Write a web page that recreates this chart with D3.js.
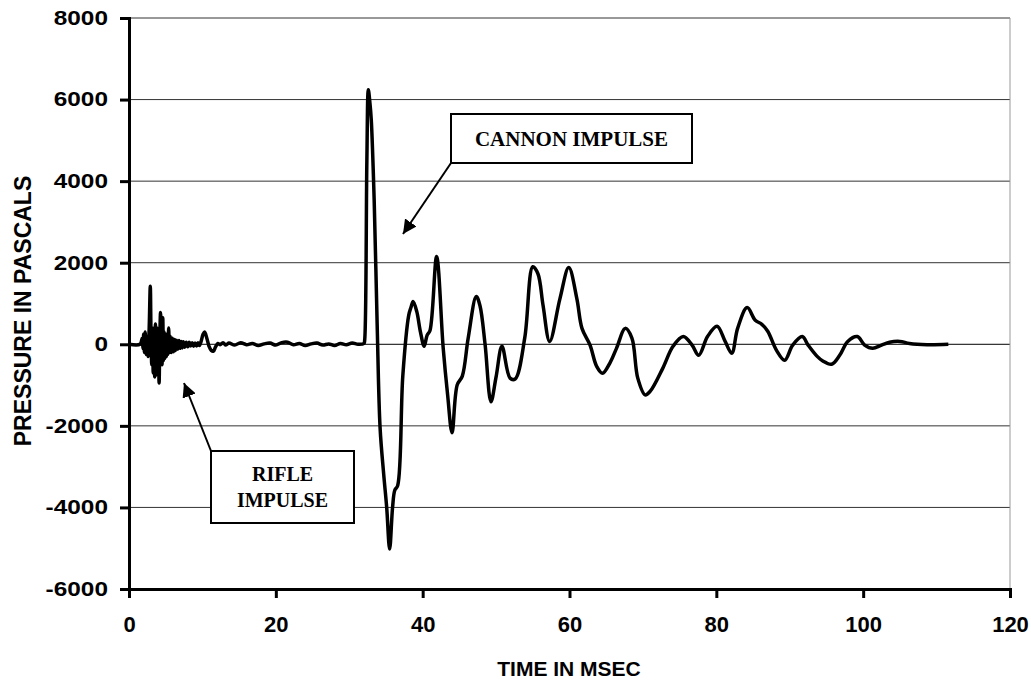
<!DOCTYPE html>
<html>
<head>
<meta charset="utf-8">
<script src="https://cdn.jsdelivr.net/npm/d3@7"></script>
<style>
    body { margin: 0; background: #fff; }
    svg { display: block; }
</style>
</head>
<body>
<div id="chart"></div>
<script>
// time in msec
const timeMs = [
    0, 1.5, 1.8, 1.9, 2.0, 2.1, 2.2, 2.35, 2.5, 2.6, 2.75, 2.9, 3.0, 3.1, 3.2, 3.3, 3.4, 3.5, 3.6, 3.7, 3.8, 3.9,
    4.0, 4.1, 4.2, 4.3, 4.4, 4.5, 4.6, 4.7, 4.8, 4.9, 5.0, 5.1, 5.2, 5.3, 5.4, 5.5, 5.6, 5.75, 5.9, 6.05, 6.2,
    6.35, 6.5, 6.65, 6.8, 6.95, 7.1, 7.25, 7.4, 7.6, 7.8, 8.0, 8.2, 8.4, 8.6, 8.8, 9.0, 9.2, 9.4, 9.6, 9.8,
    10.1, 10.3, 10.6, 10.9, 11.2, 11.5, 11.8, 12.1, 12.4, 12.8, 13.2, 13.6, 14.4, 15.2, 16.0, 16.8, 17.6,
    18.4, 19.2, 20.0, 20.8, 21.6, 22.4, 23.2, 24.0, 24.8, 25.6, 26.4, 27.2, 28.0, 28.8, 29.6, 30.4, 31.2,
    32.0, 32.1, 32.4, 32.6, 32.8, 33.0, 33.4, 33.8, 34.2, 34.7, 35.1, 35.5, 35.9, 36.2, 36.6, 37.3, 38.1,
    38.4, 38.7, 39.2, 39.7, 40.2, 40.6, 41.0, 41.9, 42.8, 43.4, 44.0, 44.7, 45.4, 46.2, 47.3, 47.8, 48.5,
    49.3, 50.0, 50.8, 51.9, 52.6, 53.9, 55.0, 55.7, 56.4, 57.3, 58.7, 59.9, 61.0, 61.7, 62.8, 63.7, 64.5,
    65.5, 66.4, 67.6, 68.5, 69.3, 70.3, 71.0, 72.7, 74.1, 75.5, 76.7, 77.6, 78.8, 80.1, 81.2, 82.1, 82.9,
    84.2, 85.3, 86.2, 87.0, 88.2, 89.3, 90.4, 91.7, 92.5, 93.7, 94.5, 95.7, 96.8, 97.9, 99.2, 100.2, 101.3,
    102.5, 103.6, 105.0, 106.3, 108.7, 111.6
];
// pressure in pascals
const pressurePa = [
    0, 0, 150, -100, 250, -200, 300, -250, 200, -300, 400, 1420, 200, -500, 400, -700, 300, -800, 500, -750, 400, -600,
    300, -950, 200, 780, 300, -500, 650, -400, 300, -350, 250, -300, 200, -250, 400, -200, 200, -200, 150, -180, 120,
    -150, 100, -120, 90, -100, 70, -90, 60, -70, 50, -60, 50, -40, 40, -50, 30, -40, 40, -30, 60,
    250, 300, 150, -50, -150, -170, -60, 20, -10, 40, -20, 30, -20, 40, -10, 20, -30,
    10, 30, -20, 40, 50, -10, 20, -30, 10, 30, -20, 10, -30, 20, -10, 30, 0,
    20, 100, 4500, 6240, 5950, 5500, 3500, 500, -2050, -3200, -4000, -5020, -4000, -3580, -3460, -760, 710,
    900, 1050, 800, 300, -50, 220, 340, 2150, -100, -1240, -2170, -1000, -780, 150, 1170, 950, 0,
    -1410, -800, -50, -830, -850, 150, 1900, 1730, 950, 70, 1120, 1880, 1120, 390, -20, -540, -710,
    -460, -100, 390, 150, -830, -1240, -1150, -590, -50, 190, -20, -270, 190, 440, 70, -220, 390,
    900, 590, 490, 320, -150, -390, -20, 190, -20, -290, -410, -490, -270, 70, 190, -20, -100,
    -20, 50, 70, 20, -10, 0
];

const xTicks = [0, 20, 40, 60, 80, 100, 120];
const yTicks = [-6000, -4000, -2000, 0, 2000, 4000, 6000, 8000];

const width = 1031;
const height = 681;
const margin = {
    top: 18,
    right: 21,
    bottom: 89,
    left: 129
};

const svg = d3.select("#chart")
    .append("svg")
    .attr("width", width)
    .attr("height", height);

const x = d3.scaleLinear()
    .domain([0, 120])
    .range([margin.left, width - margin.right]);

const y = d3.scaleLinear()
    .domain([-6000, 8000])
    .range([height - margin.bottom - 3, margin.top]);

// gridlines
svg.append("g")
    .selectAll("line")
    .data(yTicks.filter(d => d > -6000))
    .enter().append("line")
    .attr("x1", x(0))
    .attr("x2", x(120))
    .attr("y1", d => y(d))
    .attr("y2", d => y(d))
    .attr("stroke", d => d === 0 ? "#000" : "#333")
    .attr("stroke-width", 1);

// right edge of the plot area
svg.append("line")
    .attr("x1", x(120)).attr("x2", x(120))
    .attr("y1", y(8000)).attr("y2", y(-6000))
    .attr("stroke", "#999")
    .attr("stroke-width", 1);

// the waveform
const line = d3.line()
    .x((d, i) => x(timeMs[i]))
    .y(d => y(d))
    .curve(d3.curveCatmullRom.alpha(0.5));

svg.append("path")
    .datum(pressurePa)
    .attr("fill", "none")
    .attr("stroke", "#000")
    .attr("stroke-width", 3.5)
    .attr("stroke-linejoin", "round")
    .attr("d", line);

// Y axis (labels are drawn a bit wide, like the original)
const yAxis = svg.append("g")
    .attr("transform", `translate(${x(0)},0)`)
    .call(d3.axisLeft(y).tickValues(yTicks).tickSize(9).tickFormat(d => String(d)));
yAxis.select(".domain").attr("stroke-width", 3);
yAxis.selectAll(".tick line").attr("stroke-width", 3);
yAxis.selectAll("text")
    .attr("x", 0)
    .attr("transform", "translate(-21,0) scale(1.22,1)")
    .style("font-family", "'Liberation Sans', Arial, sans-serif")
    .style("font-weight", "bold")
    .style("font-size", "20px")
    .attr("fill", "#000");

// X axis
const xAxis = svg.append("g")
    .attr("transform", `translate(0,${y(-6000)})`)
    .call(d3.axisBottom(x).tickValues(xTicks).tickSize(9).tickPadding(18));
xAxis.select(".domain").attr("stroke-width", 3);
xAxis.selectAll(".tick line").attr("stroke-width", 3);
xAxis.selectAll("text")
    .style("font-family", "'Liberation Sans', Arial, sans-serif")
    .style("font-weight", "bold")
    .style("font-size", "22px")
    .attr("fill", "#000");

// axis titles
svg.append("text")
    .attr("x", 569)
    .attr("y", 676)
    .attr("text-anchor", "middle")
    .style("font-family", "'Liberation Sans', Arial, sans-serif")
    .style("font-weight", "bold")
    .style("font-size", "21px")
    .text("TIME IN MSEC");

svg.append("text")
    .attr("transform", "translate(31,311) rotate(-90)")
    .attr("text-anchor", "middle")
    .style("font-family", "'Liberation Sans', Arial, sans-serif")
    .style("font-weight", "bold")
    .style("font-size", "23px")
    .text("PRESSURE IN PASCALS");

// annotations
svg.append("defs").append("marker")
    .attr("id", "arrow")
    .attr("viewBox", "0 0 10 10")
    .attr("refX", 10)
    .attr("refY", 5)
    .attr("markerWidth", 7)
    .attr("markerHeight", 7)
    .attr("markerUnits", "strokeWidth")
    .attr("orient", "auto")
    .append("path")
    .attr("d", "M0,0 L10,5 L0,10 z")
    .attr("fill", "#000");

function callout(box, lines, fontSize, lineGap, tip) {
    svg.append("line")
        .attr("x1", tip.from[0]).attr("y1", tip.from[1])
        .attr("x2", tip.to[0]).attr("y2", tip.to[1])
        .attr("stroke", "#000")
        .attr("stroke-width", 2)
        .attr("marker-end", "url(#arrow)");

    svg.append("rect")
        .attr("x", box.x).attr("y", box.y)
        .attr("width", box.w).attr("height", box.h)
        .attr("fill", "#fff")
        .attr("stroke", "#000")
        .attr("stroke-width", 2);

    const cy = box.y + box.h / 2 - (lines.length - 1) * lineGap / 2;
    lines.forEach((t, i) => {
        svg.append("text")
            .attr("x", box.x + box.w / 2)
            .attr("y", cy + i * lineGap)
            .attr("dy", "0.35em")
            .attr("text-anchor", "middle")
            .style("font-family", "'Liberation Serif', 'Times New Roman', serif")
            .style("font-weight", "bold")
            .style("font-size", fontSize + "px")
            .text(t);
    });
}

callout({ x: 451, y: 114, w: 241, h: 49 }, ["CANNON IMPULSE"], 21, 0, { from: [451, 163], to: [403, 234] });
callout({ x: 211, y: 451, w: 143, h: 72 }, ["RIFLE", "IMPULSE"], 20, 26, { from: [211, 451], to: [184, 383] });
</script>
</body>
</html>
